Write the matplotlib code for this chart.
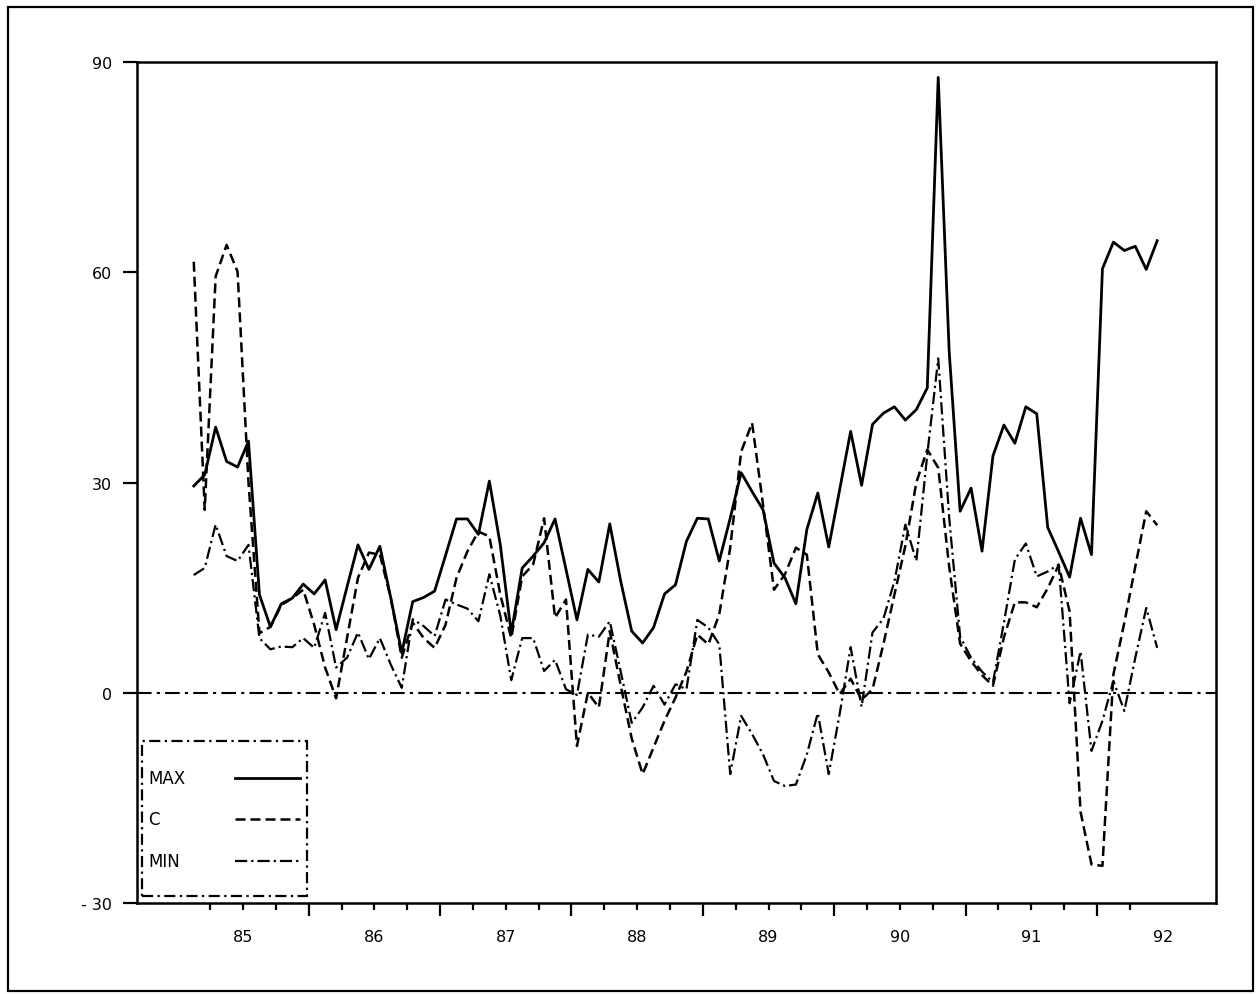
import numpy as np
import matplotlib
matplotlib.use("Agg")
from matplotlib import pyplot as plt
from matplotlib.patches import Rectangle
from matplotlib.lines import Line2D

# monthly values, Aug 84 .. Dec 91 (89 months)
max_vals = [29.5, 31.1, 37.9, 33.0, 32.2, 35.9, 14.0, 9.4, 12.7, 13.5,
            15.5, 14.1, 16.1, 9.0, 15.1, 21.1, 17.6, 20.9, 13.5, 5.7,
            13.0, 13.6, 14.5, 19.6, 24.8, 24.8, 22.6, 30.2, 21.1, 8.5,
            17.8, 19.5, 21.4, 24.8, 17.6, 10.4, 17.6, 15.8, 24.1, 15.9,
            8.8, 7.1, 9.3, 14.1, 15.4, 21.6, 24.9, 24.8, 18.8, 24.9,
            31.4, 28.7, 26.1, 18.5, 16.4, 12.7, 23.3, 28.5, 20.8, 29.0,
            37.3, 29.6, 38.3, 39.9, 40.8, 38.9, 40.4, 43.5, 87.8, 48.7,
            25.9, 29.2, 20.2, 33.8, 38.2, 35.6, 40.8, 39.8, 23.6, 20.1,
            16.5, 24.9, 19.7, 60.5, 64.3, 63.1, 63.7, 60.4, 64.5]

c_vals = [61.5, 26.1, 59.4, 63.9, 60.1, 30.0, 8.5, 9.4, 12.5, 13.5,
          14.7, 9.7, 3.6, -0.8, 7.8, 16.4, 20.0, 19.7, 13.5, 5.0,
          10.0, 7.8, 6.4, 9.7, 16.4, 20.2, 23.0, 22.3, 14.0, 7.8,
          16.6, 18.3, 24.9, 10.7, 13.3, -7.6, 0.0, -2.1, 8.8, 1.0,
          -6.5, -11.6, -7.8, -4.0, -0.7, 3.0, 8.3, 6.9, 11.2, 20.7,
          34.4, 38.5, 26.8, 14.7, 16.9, 20.7, 19.7, 5.5, 2.9, -0.2,
          2.0, -1.0, 0.5, 7.0, 14.0, 21.0, 30.0, 34.7, 32.1, 18.0,
          7.0, 4.5, 2.5, 1.0, 7.9, 12.9, 12.9, 12.2, 14.9, 18.2,
          11.6, -17.0, -24.5, -24.7, 2.6, 10.0, 18.0, 25.9, 23.9]

min_vals = [16.8, 17.8, 24.0, 19.5, 18.8, 21.1, 7.8, 6.2, 6.6, 6.5,
            7.8, 6.4, 11.4, 3.6, 5.0, 8.6, 4.8, 7.8, 4.0, 0.7,
            10.5, 9.5, 8.1, 13.3, 12.6, 12.0, 10.2, 16.9, 11.0, 1.8,
            7.8, 7.8, 3.1, 4.7, 0.5, -0.3, 8.3, 8.0, 10.2, 3.0,
            -4.3, -2.1, 1.0, -1.7, 1.2, 0.5, 10.4, 9.3, 6.9, -11.6,
            -3.3, -5.9, -8.8, -12.6, -13.3, -13.1, -8.8, -2.9, -11.6, -3.0,
            6.5, -2.0, 8.6, 10.6, 15.9, 24.0, 18.8, 34.0, 47.7, 25.0,
            8.0, 5.0, 3.0, 1.5, 10.0, 19.0, 21.3, 16.6, 17.3, 18.3,
            -1.5, 5.9, -8.3, -4.0, 1.7, -2.6, 5.0, 12.1, 6.4]

years = [85, 86, 87, 88, 89, 90, 91, 92]
y_ticks = [-30, 0, 30, 60, 90]
y_labels = ["- 30", "0", "30", "60", "90"]
series_names = ["MAX", "C", "MIN"]

# mid-month positions, first month is Aug 84
x = 84 + (np.arange(len(max_vals)) + 7.5) / 12

W, H = 1259, 995
fig = plt.figure(figsize=(W / 100, H / 100), dpi=100)
ax = fig.add_axes([137 / W, 1 - 904 / H, (1216 - 137) / W, (904 - 63) / H])

styles = [dict(ls="-", lw=2.0),
          dict(ls=(0, (4, 2)), lw=1.8),
          dict(ls=(0, (5.5, 1.8, 1, 1.8)), lw=1.6)]

for vals, st in zip([max_vals, c_vals, min_vals], styles):
    ax.plot(x, vals, color="black", **st)

ax.axhline(0, color="black", lw=1.5, ls=(0, (7, 2.5, 1.5, 2.5)))

ax.set_xlim(84.193, 92.406)
ax.set_ylim(-30, 90)

for s in ax.spines.values():
    s.set_linewidth(1.8)

ax.set_yticks(y_ticks)
ax.set_yticklabels(y_labels)
ax.tick_params(axis="y", direction="out", length=10, width=1.6, pad=8,
               labelsize=11.5)

# long ticks at mid-year, short ticks at the quarters (labels on the years)
half_ticks = [y - 0.5 for y in years[1:]]
quarter_ticks = [y + q for y in range(84, 92) for q in (0.75, 1.0, 1.25)]
quarter_ticks = [t for t in quarter_ticks if t < 92.01]
ax.set_xticks(half_ticks)
ax.set_xticklabels([])
ax.set_xticks(quarter_ticks, minor=True)
ax.set_xticklabels([str(int(t)) if abs(t - round(t)) < 1e-9 else ""
                    for t in quarter_ticks], minor=True)
ax.tick_params(axis="x", which="major", direction="out", length=9, width=1.6)
ax.tick_params(axis="x", which="minor", direction="out", length=5, width=1.6,
               pad=14, labelsize=11.5)
# keep 92 label without a tick mark
for t, tk in zip(quarter_ticks, ax.xaxis.get_minor_ticks()):
    if abs(t - 92) < 1e-9:
        tk.tick1line.set_visible(False)

# legend box drawn by hand, text left and line sample right
ax.add_patch(Rectangle((0.0046, 0.0083), 0.153, 0.1843, transform=ax.transAxes,
                       fill=False, lw=1.6, ls=(0, (5, 2, 1, 2)), zorder=5))
rows_y = [0.1486, 0.0999, 0.0499]
for name, st, yy in zip(series_names, styles, rows_y):
    ax.text(0.0102, yy, name, transform=ax.transAxes, fontsize=12,
            va="center", ha="left")
    ax.add_line(Line2D([0.0908, 0.1511], [yy, yy], transform=ax.transAxes,
                       color="black", **st))

fig.add_artist(Rectangle((8 / W, 1 - 992 / H), (1253 - 8) / W, (992 - 8) / H,
                         transform=fig.transFigure, fill=False, lw=1.6,
                         color="black"))

fig.savefig("out.png", dpi=100)
